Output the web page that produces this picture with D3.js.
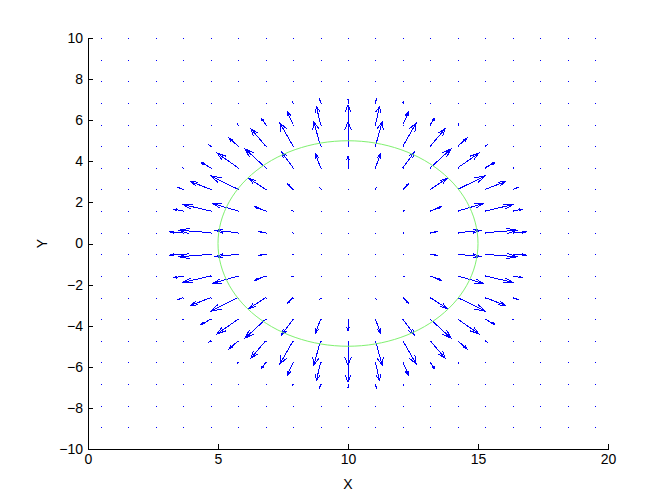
<!DOCTYPE html>
<html>
<head>
<meta charset="utf-8">
<script src="https://cdn.jsdelivr.net/npm/d3@7"></script>
<style>
  html, body { margin: 0; padding: 0; background: #fff; }
  svg { display: block; }
  text { font-family: "Liberation Sans", Arial, Helvetica, sans-serif; }
</style>
</head>
<body>
<svg id="chart" width="672" height="504"></svg>
<script>
// Grid of arrow bases
const xGrid = [0.5, 1.556, 2.611, 3.667, 4.722, 5.778, 6.833, 7.889, 8.944, 10, 11.056, 12.111, 13.167, 14.222, 15.278, 16.333, 17.389, 18.444, 19.5];
const yGrid = [-10, -8.947, -7.895, -6.842, -5.789, -4.737, -3.684, -2.632, -1.579, -0.526, 0.526, 1.579, 2.632, 3.684, 4.737, 5.789, 6.842, 7.895, 8.947, 10];

// U components (rows follow yGrid, columns follow xGrid)
const U = [
  [0,0,0,0,0,0,0,0,0,0,0,0,0,0,0,0,0,0,0],
  [0,0,0,0,0,0,0,0,0,0,0,0,0,0,0,0,0,0,0],
  [0,0,0,0,0,0,0,0,0,0,0,0,0,0,0,0,0,0,0],
  [0,0,0,0,0,0,0,-0.02,-0.03,0,0.03,0.02,0,0,0,0,0,0,0],
  [0,0,0,0,0,-0.04,-0.16,-0.23,-0.16,0,0.16,0.23,0.16,0.04,0,0,0,0,0],
  [0,0,0,0,-0.06,-0.35,-0.57,-0.51,-0.26,0,0.26,0.51,0.57,0.35,0.06,0,0,0,0],
  [0,0,0,-0.03,-0.37,-0.81,-0.79,-0.44,-0.19,0,0.19,0.44,0.79,0.81,0.37,0.03,0,0,0],
  [0,0,0,-0.19,-0.79,-1.05,-0.64,-0.22,-0.03,0,0.03,0.22,0.64,1.05,0.79,0.19,0,0,0],
  [0,0,0,-0.38,-1.08,-0.97,-0.42,-0.04,0,0,0,0.04,0.42,0.97,1.08,0.38,0,0,0],
  [0,0,0,-0.52,-1.23,-0.87,-0.24,-0.01,0,0,0,0.01,0.24,0.87,1.23,0.52,0,0,0],
  [0,0,0,-0.52,-1.23,-0.87,-0.24,-0.01,0,0,0,0.01,0.24,0.87,1.23,0.52,0,0,0],
  [0,0,0,-0.38,-1.08,-0.97,-0.42,-0.04,0,0,0,0.04,0.42,0.97,1.08,0.38,0,0,0],
  [0,0,0,-0.19,-0.79,-1.05,-0.64,-0.22,-0.03,0,0.03,0.22,0.64,1.05,0.79,0.19,0,0,0],
  [0,0,0,-0.03,-0.37,-0.81,-0.79,-0.44,-0.19,0,0.19,0.44,0.79,0.81,0.37,0.03,0,0,0],
  [0,0,0,0,-0.06,-0.35,-0.57,-0.51,-0.26,0,0.26,0.51,0.57,0.35,0.06,0,0,0,0],
  [0,0,0,0,0,-0.04,-0.16,-0.23,-0.16,0,0.16,0.23,0.16,0.04,0,0,0,0,0],
  [0,0,0,0,0,0,0,-0.02,-0.03,0,0.03,0.02,0,0,0,0,0,0,0],
  [0,0,0,0,0,0,0,0,0,0,0,0,0,0,0,0,0,0,0],
  [0,0,0,0,0,0,0,0,0,0,0,0,0,0,0,0,0,0,0],
  [0,0,0,0,0,0,0,0,0,0,0,0,0,0,0,0,0,0,0]
];

// V components (rows follow yGrid, columns follow xGrid)
const V = [
  [0,0,0,0,0,0,0,0,0,0,0,0,0,0,0,0,0,0,0],
  [0,0,0,0,0,0,0,0,0,0,0,0,0,0,0,0,0,0,0],
  [0,0,0,0,0,0,0,0,0,0,0,0,0,0,0,0,0,0,0],
  [0,0,0,0,0,0,0,-0.06,-0.17,-0.18,-0.17,-0.06,0,0,0,0,0,0,0],
  [0,0,0,0,0,-0.05,-0.30,-0.63,-0.88,-0.95,-0.88,-0.63,-0.30,-0.05,0,0,0,0,0],
  [0,0,0,0,-0.05,-0.39,-0.85,-1.13,-1.18,-1.18,-1.18,-1.13,-0.85,-0.39,-0.05,0,0,0,0],
  [0,0,0,-0.02,-0.26,-0.71,-0.92,-0.76,-0.67,-0.56,-0.67,-0.76,-0.92,-0.71,-0.26,-0.02,0,0,0],
  [0,0,0,-0.08,-0.39,-0.66,-0.53,-0.27,-0.08,-0.02,-0.08,-0.27,-0.53,-0.66,-0.39,-0.08,0,0,0],
  [0,0,0,-0.09,-0.32,-0.36,-0.21,-0.03,0,0,0,-0.03,-0.21,-0.36,-0.32,-0.09,0,0,0],
  [0,0,0,-0.04,-0.12,-0.11,-0.04,0,0,0,0,0,-0.04,-0.11,-0.12,-0.04,0,0,0],
  [0,0,0,0.04,0.12,0.11,0.04,0,0,0,0,0,0.04,0.11,0.12,0.04,0,0,0],
  [0,0,0,0.09,0.32,0.36,0.21,0.03,0,0,0,0.03,0.21,0.36,0.32,0.09,0,0,0],
  [0,0,0,0.08,0.39,0.66,0.53,0.27,0.08,0.02,0.08,0.27,0.53,0.66,0.39,0.08,0,0,0],
  [0,0,0,0.02,0.26,0.71,0.92,0.76,0.67,0.56,0.67,0.76,0.92,0.71,0.26,0.02,0,0,0],
  [0,0,0,0,0.05,0.39,0.85,1.13,1.18,1.18,1.18,1.13,0.85,0.39,0.05,0,0,0,0],
  [0,0,0,0,0,0.05,0.30,0.63,0.88,0.95,0.88,0.63,0.30,0.05,0,0,0,0,0],
  [0,0,0,0,0,0,0,0.06,0.17,0.18,0.17,0.06,0,0,0,0,0,0,0],
  [0,0,0,0,0,0,0,0,0,0,0,0,0,0,0,0,0,0,0],
  [0,0,0,0,0,0,0,0,0,0,0,0,0,0,0,0,0,0,0],
  [0,0,0,0,0,0,0,0,0,0,0,0,0,0,0,0,0,0,0]
];

const circleCenter = [10, 0];
const circleRadius = 5;

const xTicks = [0, 5, 10, 15, 20];
const yTicks = [-10, -8, -6, -4, -2, 0, 2, 4, 6, 8, 10];
const xLabel = "X";
const yLabel = "Y";

// ---------- drawing ----------
(function () {
const svg = d3.select("#chart");
const mLeft = 88, mRight = 608, mTop = 38, mBottom = 449;
const x = d3.scaleLinear().domain([0, 20]).range([mLeft, mRight]);
const y = d3.scaleLinear().domain([-10, 10]).range([mBottom, mTop]);

const blue = "#0000ff";
const gArrows = svg.append("g").attr("shape-rendering", "crispEdges");

// arrows (MATLAB quiver style heads)
const alpha = 0.33, beta = 0.33;
const arrows = [];
yGrid.forEach((yv, j) => {
  xGrid.forEach((xv, i) => {
    arrows.push({ x: xv, y: yv, u: U[j][i], v: V[j][i] });
  });
});

// base dots
gArrows.selectAll("rect.dot").data(arrows).enter().append("rect")
  .attr("class", "dot")
  .attr("x", d => Math.round(x(d.x)) - 0.5)
  .attr("y", d => Math.round(y(d.y)) - 0.5)
  .attr("width", 1).attr("height", 1)
  .attr("fill", blue);

const nz = arrows.filter(d => d.u !== 0 || d.v !== 0);
gArrows.selectAll("path.arrow").data(nz).enter().append("path")
  .attr("class", "arrow")
  .attr("fill", "none")
  .attr("stroke", blue)
  .attr("stroke-width", 1)
  .attr("d", d => {
    const tx = d.x + d.u, ty = d.y + d.v;
    const h1x = tx - alpha * (d.u + beta * d.v), h1y = ty - alpha * (d.v - beta * d.u);
    const h2x = tx - alpha * (d.u - beta * d.v), h2y = ty - alpha * (d.v + beta * d.u);
    return `M${x(d.x)},${y(d.y)}L${x(tx)},${y(ty)}` +
           `M${x(h1x)},${y(h1y)}L${x(tx)},${y(ty)}L${x(h2x)},${y(h2y)}`;
  });

// circle
const circPts = d3.range(0, 361, 3).map(a => [
  circleCenter[0] + circleRadius * Math.cos(a * Math.PI / 180),
  circleCenter[1] + circleRadius * Math.sin(a * Math.PI / 180)
]);
svg.append("path")
  .datum(circPts)
  .attr("fill", "none")
  .attr("stroke", "#80f070")
  .attr("stroke-width", 1)
  .attr("d", d3.line().x(d => x(d[0])).y(d => y(d[1])));

// axes
const xAxis = d3.axisBottom(x).tickValues(xTicks).tickSizeInner(-5).tickSizeOuter(0).tickPadding(5);
const yAxis = d3.axisLeft(y).tickValues(yTicks).tickSizeInner(-5).tickSizeOuter(0).tickPadding(5);

const gx = svg.append("g").attr("transform", `translate(0,${mBottom})`).call(xAxis);
const gy = svg.append("g").attr("transform", `translate(${mLeft},0)`).call(yAxis);
[gx, gy].forEach(g => {
  g.attr("shape-rendering", "crispEdges");
  g.selectAll("path, line").attr("stroke", "#000");
  g.selectAll("text").attr("fill", "#000").style("font-size", "14px")
    .style("font-family", '"Liberation Sans", Arial, Helvetica, sans-serif');
});

svg.append("text")
  .attr("x", (mLeft + mRight) / 2)
  .attr("y", 489)
  .attr("text-anchor", "middle")
  .style("font-size", "14px")
  .text(xLabel);

svg.append("text")
  .attr("transform", `translate(47,${(mTop + mBottom) / 2}) rotate(-90)`)
  .attr("text-anchor", "middle")
  .style("font-size", "14px")
  .text(yLabel);
})();
</script>
</body>
</html>
